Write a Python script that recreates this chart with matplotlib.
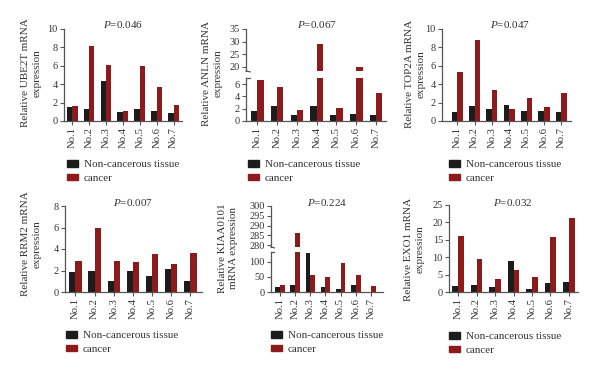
import numpy as np
import matplotlib
matplotlib.use("Agg")
import matplotlib.pyplot as plt
from matplotlib.patches import Patch

plt.rcParams["font.family"] = ["Liberation Serif", "DejaVu Serif"]
plt.rcParams["mathtext.fontset"] = "custom"
plt.rcParams["mathtext.rm"] = "Liberation Serif"
plt.rcParams["mathtext.it"] = "Liberation Serif:italic"

samples = ["No.1", "No.2", "No.3", "No.4", "No.5", "No.6", "No.7"]

ube2t_normal = [1.5, 1.3, 4.4, 1.0, 1.35, 1.05, 0.9]
ube2t_cancer = [1.65, 8.2, 6.05, 1.1, 5.95, 3.7, 1.75]
anln_normal = [1.6, 2.4, 1.0, 2.5, 1.0, 1.2, 1.0]
anln_cancer = [6.6, 5.6, 1.8, 29.0, 2.1, 20.0, 4.6]
top2a_normal = [1.0, 1.65, 1.25, 1.75, 1.05, 1.1, 1.0]
top2a_cancer = [5.3, 8.8, 3.35, 1.3, 2.5, 1.5, 3.0]
rrm2_normal = [1.9, 2.0, 1.05, 2.0, 1.5, 2.1, 1.0]
rrm2_cancer = [2.85, 6.0, 2.9, 2.8, 3.5, 2.65, 3.65]
kiaa_normal = [17, 23, 130, 15, 10, 23, 0]
kiaa_cancer = [24, 286, 58, 50, 97, 56, 21]
exo1_normal = [1.8, 2.1, 1.5, 8.8, 1.0, 2.7, 2.8]
exo1_cancer = [16.1, 9.4, 3.6, 6.2, 4.2, 15.8, 21.3]

p_values = ["0.046", "0.067", "0.047", "0.007", "0.224", "0.032"]
ylabels = ["Relative UBE2T mRNA\nexpression", "Relative ANLN mRNA\nexpression",
           "Relative TOP2A mRNA\nexpression", "Relative RRM2 mRNA\nexpression",
           "Relative KIAA0101\nmRNA expression", "Relative EXO1 mRNA\nexpression"]

BLACK = "#1c1c1c"
RED = "#8e1b1b"
GREY = "#555555"
TXT = "#333333"
FS = 7.4      # labels, legend, P values
TFS = 7.4     # tick labels
W, H = 600, 374

fig = plt.figure(figsize=(6, 3.74), dpi=100)


def box(x0, x1, ytop, ybot):
    # pixel box -> figure fraction rect
    return [x0 / W, 1 - ybot / H, (x1 - x0) / W, (ybot - ytop) / H]


def style(ax, xl, show_x=True):
    for s in ("top", "right"):
        ax.spines[s].set_visible(False)
    for s in ("left", "bottom"):
        ax.spines[s].set_color(GREY)
        ax.spines[s].set_linewidth(0.9)
    ax.tick_params(axis="y", length=3, width=0.8, color=GREY, labelsize=TFS,
                   labelcolor=TXT, pad=1.5)
    ax.set_xlim(*xl)
    if show_x:
        ax.set_xticks(range(len(samples)))
        ax.set_xticklabels(samples, rotation=90)
        ax.tick_params(axis="x", length=3, width=0.8, color=GREY, labelsize=TFS + 0.3,
                       labelcolor=TXT, pad=1.5)
    else:
        ax.spines["bottom"].set_visible(False)
        ax.set_xticks([])


def bars(ax, normal, cancer, w=0.32):
    x = np.arange(len(samples))
    ax.bar(x - w / 2, normal, w, color=BLACK, label="Non-cancerous tissue")
    ax.bar(x + w / 2, cancer, w, color=RED, label="cancer")


def mark(ax, y):
    ax.plot([0, 0.03], [y, y - 0.02 if y == 0 else y], transform=ax.transAxes,
            color=GREY, lw=0.9, clip_on=False)


def legend(px, py):
    handles = [Patch(color=BLACK), Patch(color=RED)]
    fig.legend(handles, ["Non-cancerous tissue", "cancer"], loc="upper left",
               bbox_to_anchor=(px / W, 1 - py / H), frameon=False, fontsize=FS + 0.6,
               handlelength=0.95, handleheight=0.55, handletextpad=0.55,
               labelspacing=0.4, borderpad=0, borderaxespad=0, labelcolor=TXT)


def ptext(i, px, py):
    fig.text(px / W, 1 - py / H, f"$P$={p_values[i]}", ha="center", va="center",
             fontsize=FS + 0.6, color=TXT)


def ylab(i, px, py):
    fig.text(px / W, 1 - py / H, ylabels[i], rotation=90, ha="center", va="center",
             multialignment="center", fontsize=FS + 0.6, color=TXT, linespacing=1.4)


def simple(rect, normal, cancer, ymax, step, xl):
    ax = fig.add_axes(rect)
    bars(ax, normal, cancer)
    ax.set_ylim(0, ymax)
    ax.set_yticks(np.arange(0, ymax + 0.01, step))
    style(ax, xl)
    return ax


def broken(rect_lo, rect_hi, normal, cancer, lo, hi, lo_ticks, hi_ticks, xl):
    axl = fig.add_axes(rect_lo)
    axh = fig.add_axes(rect_hi)
    for ax in (axl, axh):
        bars(ax, normal, cancer)
    axl.set_ylim(*lo)
    axh.set_ylim(*hi)
    axl.set_yticks(lo_ticks)
    axh.set_yticks(hi_ticks)
    style(axl, xl)
    style(axh, xl, show_x=False)
    mark(axh, 0)
    mark(axl, 1)
    return axl, axh


# top row
simple(box(64, 182, 29, 121), ube2t_normal, ube2t_cancer, 10, 2, (-0.48, 6.5))
broken(box(246, 386, 78, 121), box(246, 386, 29, 71), anln_normal, anln_cancer,
       (0, 7), (18.3, 35), [0, 2, 4, 6], [20, 25, 30, 35], (-0.57, 6.5))
simple(box(442, 571, 29, 121), top2a_normal, top2a_cancer, 10, 2, (-0.88, 6.56))

# bottom row
simple(box(65, 202, 206, 292), rrm2_normal, rrm2_cancer, 8, 2, (-0.54, 6.6))
broken(box(271, 383, 252, 292), box(271, 383, 206, 247), kiaa_normal, kiaa_cancer,
       (0, 133), (279, 300), [0, 50, 100], [280, 285, 290, 295, 300], (-0.6, 6.8))
simple(box(449, 578, 205, 292), exo1_normal, exo1_cancer, 25, 5, (-0.49, 6.49))

for i, (px, py) in enumerate([(123, 25), (317, 25), (510, 25),
                              (133, 203), (327, 203), (513, 203)]):
    ptext(i, px, py)

for i, (px, py) in enumerate([(31, 73), (212, 73), (415, 74),
                              (31, 244), (228, 248), (414, 249)]):
    ylab(i, px, py)

for px, py in [(67, 160), (248, 160), (449, 160), (66, 331), (271, 331), (449, 332)]:
    legend(px, py)

fig.savefig("out.png", dpi=100)
